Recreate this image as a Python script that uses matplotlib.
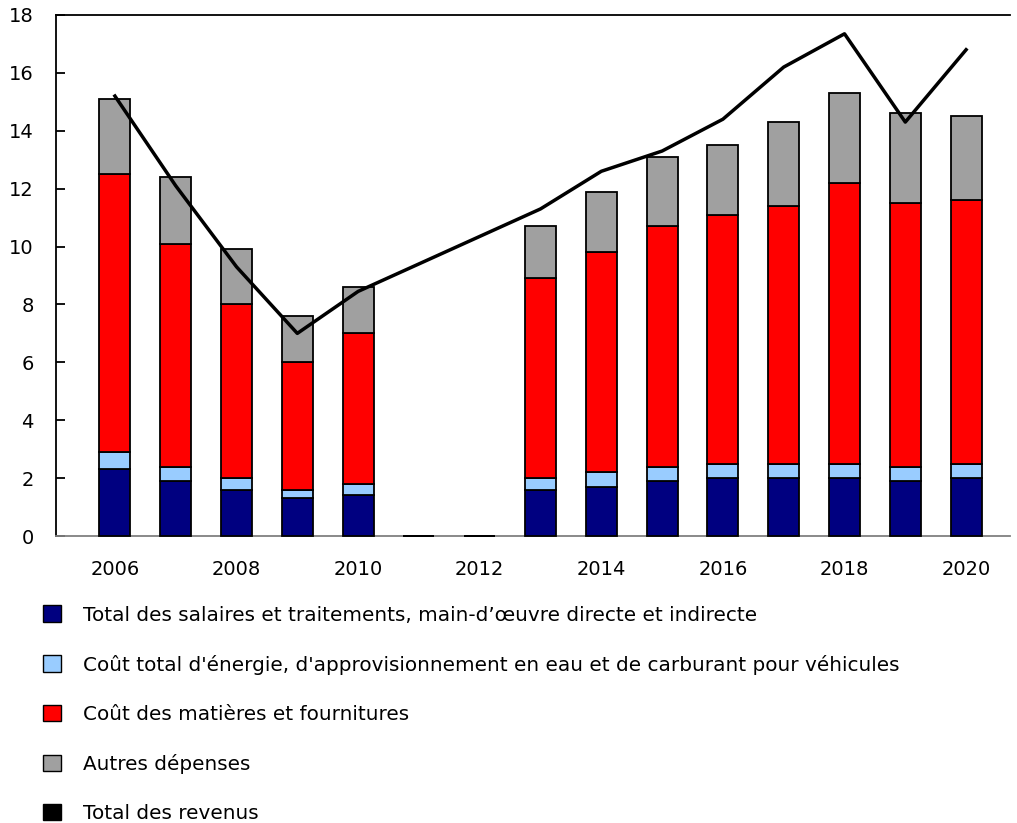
import numpy as np
import matplotlib
matplotlib.use('Agg')
import matplotlib.pyplot as plt
from matplotlib.patches import Patch

# data (millions of dollars, presumably)
years = [2006, 2007, 2008, 2009, 2010, 2011, 2012, 2013, 2014, 2015, 2016, 2017, 2018, 2019, 2020]
salaires = [2.3, 1.9, 1.6, 1.3, 1.4, 0, 0, 1.6, 1.7, 1.9, 2.0, 2.0, 2.0, 1.9, 2.0]
energie = [0.6, 0.5, 0.4, 0.3, 0.4, 0, 0, 0.4, 0.5, 0.5, 0.5, 0.5, 0.5, 0.5, 0.5]
matieres = [9.6, 7.7, 6.0, 4.4, 5.2, 0, 0, 6.9, 7.6, 8.3, 8.6, 8.9, 9.7, 9.1, 9.1]
autres = [2.6, 2.3, 1.9, 1.6, 1.6, 0, 0, 1.8, 2.1, 2.4, 2.4, 2.9, 3.1, 3.1, 2.9]
revenus = [15.2, 12.1, 9.3, 7.0, 8.45, 9.4, 10.35, 11.3, 12.6, 13.3, 14.4, 16.2, 17.35, 14.3, 16.8]

labels = [
    "Total des salaires et traitements, main-d\u2019\u0153uvre directe et indirecte",
    "Co\u00fbt total d'\u00e9nergie, d'approvisionnement en eau et de carburant pour v\u00e9hicules",
    "Co\u00fbt des mati\u00e8res et fournitures",
    "Autres d\u00e9penses",
    "Total des revenus",
]
colors = ['#000080', '#99CCFF', '#FF0000', '#A0A0A0', '#000000']

plt.rcParams['font.family'] = ['DejaVu Sans']

fig = plt.figure(figsize=(10.17, 8.23), dpi=100)
ax = fig.add_axes([0.055, 0.3487, 0.938, 0.6331])

x = np.array(years)
bottom = np.zeros(len(years))
for vals, c in zip([salaires, energie, matieres, autres], colors[:4]):
    ax.bar(x, vals, width=0.51, bottom=bottom, color=c, edgecolor='black',
           linewidth=1.3, zorder=3, clip_on=False)
    bottom += np.array(vals)

ax.plot(x, revenus, color='black', linewidth=2.5, zorder=4)

ax.set_xlim(2005.03, 2020.72)
ax.set_ylim(0, 18)
ax.set_yticks(range(0, 19, 2))
ax.set_xticks(range(2006, 2021, 2))

ax.spines['right'].set_visible(False)
ax.spines['top'].set_linewidth(1.3)
ax.spines['left'].set_linewidth(1.3)
ax.spines['bottom'].set_color('#808080')
ax.spines['bottom'].set_linewidth(1.3)

ax.tick_params(axis='y', direction='in', length=6.5, width=1.3, pad=16, labelsize=14)
ax.tick_params(axis='x', length=0, pad=17, labelsize=14)

handles = [Patch(facecolor=c, edgecolor='black', linewidth=1.0) for c in colors]
fig.legend(handles, labels, loc='upper left', bbox_to_anchor=(0.0419, 0.2645),
           frameon=False, fontsize=14.4, handlelength=0.9, handleheight=0.9,
           handletextpad=1.1, labelspacing=1.5, borderaxespad=0, borderpad=0)

fig.savefig('out.png', dpi=100)
